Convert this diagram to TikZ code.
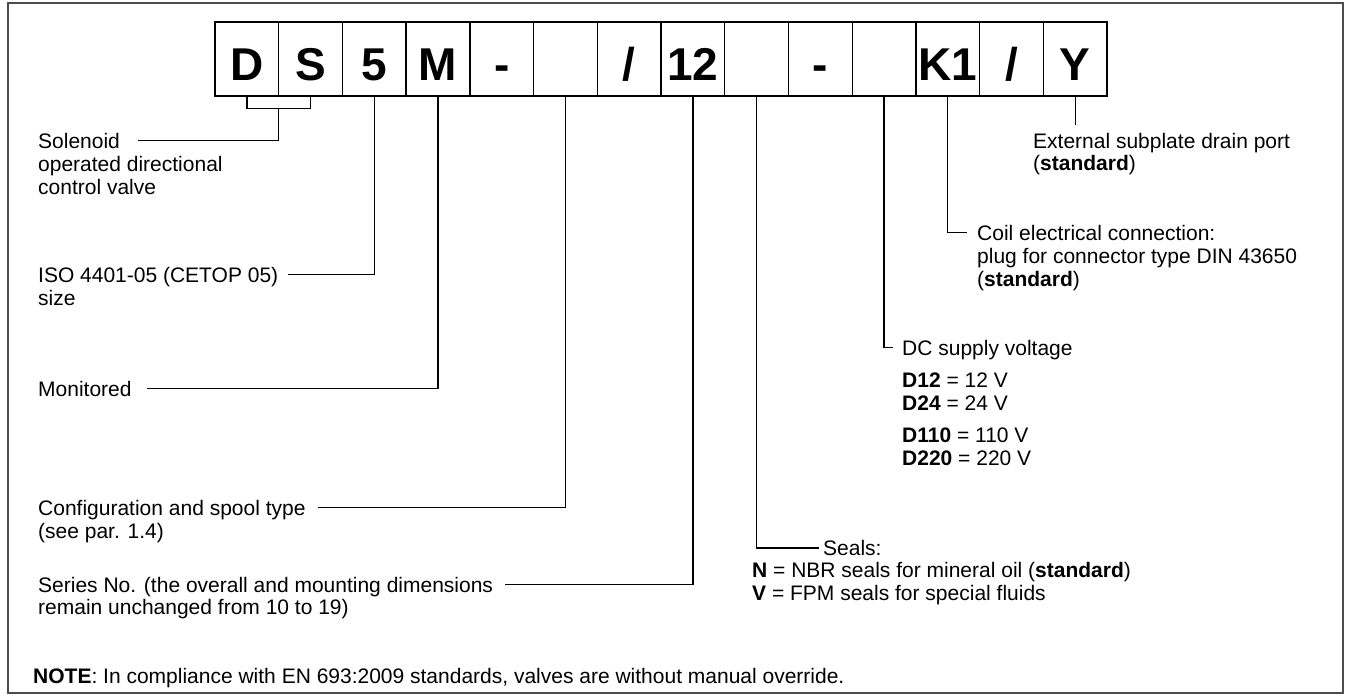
\documentclass[tikz,border=0pt]{standalone}
\usepackage{fontspec}
\setmainfont{Liberation Sans}
\usetikzlibrary{calc}
\begin{document}
\begin{tikzpicture}[x=1pt,y=-1pt,
  cell/.style={draw, line width=1.3pt, minimum width=63.714pt, minimum height=74pt,
    inner sep=0pt, text height=46pt, text depth=4pt, font=\fontsize{46}{50}\selectfont\bfseries},
  lbl/.style={anchor=base west, inner sep=0pt, text height=15pt, text depth=0pt,
    font=\fontsize{21}{23}\selectfont},
  conn/.style={line width=1.3pt},
  framecol/.style={draw=black!70, line width=2pt}]
\useasboundingbox (0,0) rectangle (1349,696);
\draw[framecol] (8,3) rectangle (1343,693);
% code boxes
\foreach \t [count=\i] in {D,S,5,M,-,{},/,12,{},-,{},K1,/,Y}
  \node[cell] (b\i) at ({215+(\i-0.5)*63.714},59) {\t};
% left labels
\node[lbl] (sol) at (38,148) {Solenoid};
\node[lbl] (sol2) at (38,171) {\vtop{\hbox{operated directional}\hbox{control valve}}};
\node[lbl] (iso) at (38,282) {ISO 4401-05 (CETOP 05)};
\node[lbl] (iso2) at (38,305) {size};
\node[lbl] (mon) at (38,396) {Monitored};
\node[lbl] (conf) at (38,515) {Configuration and spool type};
\node[lbl] (conf2) at (38,538) {(see par. 1.4)};
\node[lbl] (ser) at (38,592) {Series No. (the overall and mounting dimensions};
\node[lbl] (ser2) at (38,614) {remain unchanged from 10 to 19)};
\node[lbl] (note) at (33,683) {\textbf{NOTE}: In compliance with EN 693:2009 standards, valves are without manual override.};
% right labels
\node[lbl] (ext) at (1033,148) {External subplate drain port};
\node[lbl] (ext2) at (1033,170) {(\textbf{standard})};
\node[lbl] (coil) at (977,240) {Coil electrical connection:};
\node[lbl] (coil2) at (977,263) {\vtop{\hbox{plug for connector type DIN 43650}\hbox{(\textbf{standard})}}};
\node[lbl] (dc) at (902,355) {DC supply voltage};
\node[lbl] (dv1) at (902,387) {\vtop{\hbox{\textbf{D12} = 12 V}\hbox{\textbf{D24} = 24 V}}};
\node[lbl] (dv2) at (902,442) {\vtop{\hbox{\textbf{D110} = 110 V}\hbox{\textbf{D220} = 220 V}}};
\node[lbl] (seals) at (823,555.5) {Seals:};
\node[lbl] (seals2) at (752,577) {\vtop{\hbox{\textbf{N} = NBR seals for mineral oil (\textbf{standard})}\hbox{\textbf{V} = FPM seals for special fluids}}};
% connectors
\coordinate (dsm) at ($(b1.south)!0.5!(b2.south)+(0,12)$);
\draw[conn] (b1.south) -- ++(0,12) -| (b2.south);
\draw[conn] (dsm) |- ([xshift=18pt]sol.east);
\draw[conn] (b3.south) |- ([xshift=10pt]iso.east);
\draw[conn] (b4.south) |- ([xshift=15pt]mon.east);
\draw[conn] (b6.south) |- ([xshift=12pt]conf.east);
\draw[conn] (b8.south) |- ([xshift=12pt]ser.east);
\draw[conn] (b9.south) |- ([xshift=-4pt]seals.west);
\draw[conn] (b11.south) |- ([xshift=-9pt]dc.west);
\draw[conn] (b12.south) |- ([xshift=-10pt]coil.west);
\coordinate (yend) at ($(b14.south)+(0,28)$);
\draw[conn] (b14.south) -- (yend);
\end{tikzpicture}
\end{document}
